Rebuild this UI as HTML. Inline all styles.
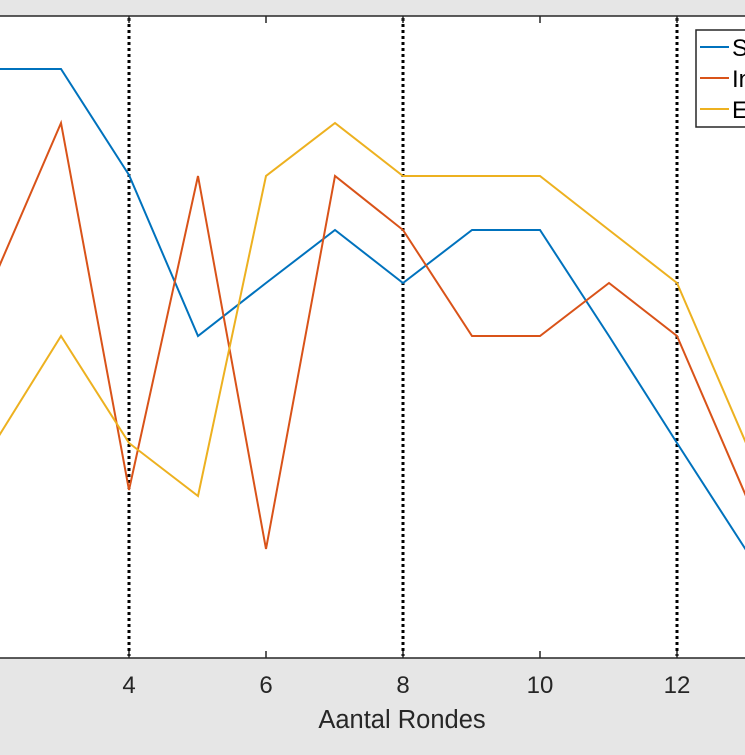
<!DOCTYPE html><html><head><style>body{margin:0;background:#e6e6e6;width:745px;height:750px;overflow:hidden}</style></head><body>
<svg width="745" height="750" xmlns="http://www.w3.org/2000/svg" style="font-family:'Liberation Sans',sans-serif">
<rect x="0" y="16" width="745" height="642" fill="#fff"/>
<g stroke="#000" stroke-width="3" stroke-dasharray="3,3">
<line x1="129" y1="18" x2="129" y2="656"/><line x1="403" y1="18" x2="403" y2="656"/><line x1="677" y1="18" x2="677" y2="656"/></g>
<g fill="none" stroke-width="2">
<polyline stroke="#0072bd" points="-8,69 61,69 129,175 198,336 266,283 335,230 403,283 472,230 540,230 609,336 677,443 746,550"/>
<polyline stroke="#d95319" points="-8,283 61,123 129,490 198,176 266,549 335,176 403,230 472,336 540,336 609,283 677,336 746,496"/>
<polyline stroke="#edb120" points="-8,447 61,336 129,443 198,496 266,176 335,123 403,176 472,176 540,176 609,230 677,283 746,443"/>
</g>
<g stroke="#262626" stroke-width="1.5"><line x1="0" y1="16" x2="745" y2="16"/><line x1="0" y1="658" x2="745" y2="658"/>
<line x1="129" y1="658" x2="129" y2="651"/><line x1="266" y1="658" x2="266" y2="651"/><line x1="403" y1="658" x2="403" y2="651"/><line x1="540" y1="658" x2="540" y2="651"/><line x1="677" y1="658" x2="677" y2="651"/>
<line x1="129" y1="16" x2="129" y2="23"/><line x1="266" y1="16" x2="266" y2="23"/><line x1="403" y1="16" x2="403" y2="23"/><line x1="540" y1="16" x2="540" y2="23"/><line x1="677" y1="16" x2="677" y2="23"/></g>
<rect x="696" y="30" width="60" height="97" fill="#fff" stroke="#262626" stroke-width="1.5"/>
<line x1="700" y1="47" x2="729" y2="47" stroke="#0072bd" stroke-width="2"/>
<line x1="700" y1="78" x2="729" y2="78" stroke="#d95319" stroke-width="2"/>
<line x1="700" y1="109" x2="729" y2="109" stroke="#edb120" stroke-width="2"/>
<g font-size="24" fill="#000"><text x="732" y="56">S</text><text x="732" y="87">In</text><text x="732" y="118">E</text></g>
<g font-size="24" fill="#262626" text-anchor="middle"><text x="129" y="693">4</text><text x="266" y="693">6</text><text x="403" y="693">8</text><text x="540" y="693">10</text><text x="677" y="693">12</text>
<text x="402" y="728" font-size="25.5">Aantal Rondes</text></g>
</svg></body></html>
